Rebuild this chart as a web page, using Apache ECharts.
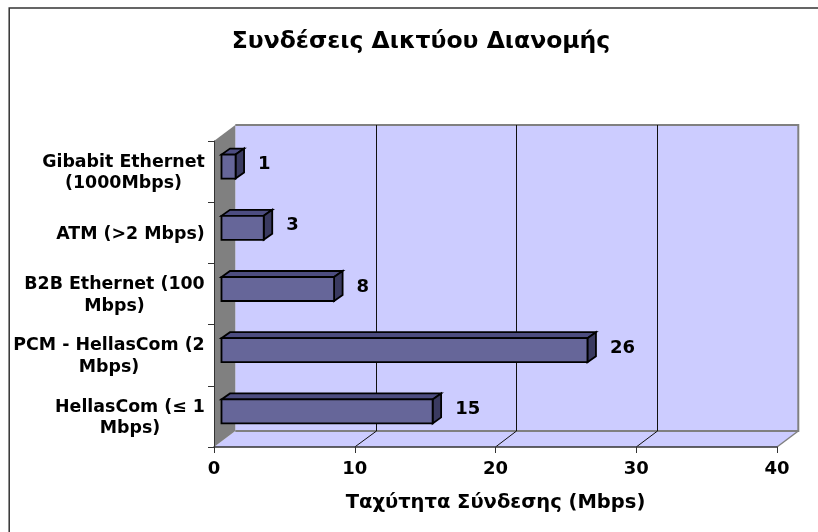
<!DOCTYPE html>
<html>
<head>
<meta charset="utf-8">
<style>
  html, body { margin: 0; padding: 0; background: #fff; }
  #chart { width: 818px; height: 532px; }
</style>
<script src="https://cdn.jsdelivr.net/npm/echarts@6/dist/echarts.min.js"></script>
</head>
<body>
<div id="chart"></div>
<script>
const categories = [
  'Gibabit Ethernet\n(1000Mbps)',
  'ATM (>2 Mbps)',
  'B2B Ethernet (100\nMbps)',
  'PCM - HellasCom (2\nMbps)',
  'HellasCom (≤ 1\nMbps)'
];
const speeds = [1, 3, 8, 26, 15];
const xTicks = [0, 10, 20, 30, 40];

const FONT = '"DejaVu Sans", Verdana, sans-serif';
const CAT_FONT_SIZE = 17.4;

// 3d look: offset of the back wall and of the bar body
const WALL_DX = 21.3, WALL_DY = -16;
const BAR_SHIFT_X = 7.5, BAR_SHIFT_Y = -5, BAR_H = 24, BAR_DX = 8.5, BAR_DY = -6;

const chart = echarts.init(document.getElementById('chart'));

// each line of a category is centred in the label block, block sits right-aligned
const measure = document.createElement('canvas').getContext('2d');
measure.font = 'bold ' + CAT_FONT_SIZE + 'px ' + FONT;
const catRich = {};
categories.forEach((c, i) => {
  const w = Math.max(...c.split('\n').map(s => measure.measureText(s).width));
  catRich['c' + i] = { width: Math.ceil(w), align: 'center', fontFamily: FONT, fontWeight: 'bold', fontSize: CAT_FONT_SIZE, color: '#000', lineHeight: 21.5 };
});

function poly(points, fill, stroke, lineWidth) {
  return { type: 'polygon', shape: { points }, style: { fill, stroke: stroke || null, lineWidth: lineWidth || 0 } };
}

function renderWalls(params, api) {
  const cs = params.coordSys;
  const l = cs.x, r = cs.x + cs.width, t = cs.y, b = cs.y + cs.height;
  const edge = { stroke: '#808080', lineWidth: 2, fill: null };
  return {
    type: 'group',
    children: [
      poly([[l + WALL_DX, t + WALL_DY], [r + WALL_DX, t + WALL_DY], [r + WALL_DX, b + WALL_DY], [l + WALL_DX, b + WALL_DY]], '#ccccff'),
      poly([[l, b], [r, b], [r + WALL_DX, b + WALL_DY], [l + WALL_DX, b + WALL_DY]], '#ccccff'),
      poly([[l, t], [l + WALL_DX, t + WALL_DY], [l + WALL_DX, b + WALL_DY], [l, b]], '#808080'),
      { type: 'polyline', shape: { points: [[l + WALL_DX, b + WALL_DY], [r + WALL_DX, b + WALL_DY], [r + WALL_DX, t + WALL_DY], [l + WALL_DX, t + WALL_DY]] }, style: edge },
      { type: 'line', shape: { x1: r, y1: b, x2: r + WALL_DX, y2: b + WALL_DY }, style: { stroke: '#808080', lineWidth: 1.5 } }
    ]
  };
}

function renderGridline(params, api) {
  const cs = params.coordSys;
  const x = api.coord([api.value(0), 0])[0];
  const b = cs.y + cs.height, t = cs.y;
  const xBack = Math.floor(x + WALL_DX) + 0.5;
  return {
    type: 'polyline',
    shape: { points: [[x, b], [xBack, b + WALL_DY], [xBack, t + WALL_DY]] },
    style: { stroke: '#111', lineWidth: 1, fill: null }
  };
}

function renderBar(params, api) {
  const v = api.value(0), i = api.value(1);
  const c = api.coord([v, i]);
  const x0 = api.coord([0, i])[0] + BAR_SHIFT_X;
  const x1 = c[0] + BAR_SHIFT_X;
  const yt = c[1] + BAR_SHIFT_Y - BAR_H / 2;
  const yb = yt + BAR_H;
  const line = '#000';
  return {
    type: 'group',
    children: [
      poly([[x0, yt], [x1, yt], [x1 + BAR_DX, yt + BAR_DY], [x0 + BAR_DX, yt + BAR_DY]], '#4d4d80', line, 1.8),
      poly([[x1, yt], [x1 + BAR_DX, yt + BAR_DY], [x1 + BAR_DX, yb + BAR_DY], [x1, yb]], '#3a3a60', line, 1.8),
      poly([[x0, yt], [x1, yt], [x1, yb], [x0, yb]], '#666699', line, 1.8),
      {
        type: 'text',
        style: {
          x: x1 + BAR_DX + 14, y: (yt + yb) / 2 - 2,
          text: String(v),
          fill: '#000', font: 'bold 18px ' + FONT,
          align: 'left', verticalAlign: 'middle'
        }
      }
    ]
  };
}

chart.setOption({
  animation: false,
  backgroundColor: '#fff',
  title: {
    text: 'Συνδέσεις Δικτύου Διανομής',
    left: 416, top: 25, textAlign: 'center',
    textStyle: { fontFamily: FONT, fontSize: 23.5, fontWeight: 'bold', color: '#000' }
  },
  graphic: [
    { type: 'polyline', z: 10, shape: { points: [[9.2, 532], [9.2, 8], [818, 8]] }, style: { stroke: '#333', lineWidth: 1.5, fill: null } }
  ],
  grid: { left: 214, right: 41, top: 141, bottom: 85 },
  xAxis: {
    type: 'value', min: 0, max: 40, interval: 10, z: 5,
    name: 'Ταχύτητα Σύνδεσης (Mbps)', nameLocation: 'middle', nameGap: 46,
    nameTextStyle: { fontFamily: FONT, fontSize: 19.5, fontWeight: 'bold', color: '#000' },
    axisLine: { show: true, lineStyle: { color: '#333', width: 1.5 } },
    axisTick: { show: true, length: 6, lineStyle: { color: '#333' } },
    axisLabel: { margin: 13, fontFamily: FONT, fontSize: 18, fontWeight: 'bold', color: '#000', formatter: v => String(v) },
    splitLine: { show: false }
  },
  yAxis: {
    type: 'category', inverse: true, data: categories, z: 5,
    axisLine: { show: true, lineStyle: { color: '#333', width: 1 } },
    axisTick: { show: true, length: 6, lineStyle: { color: '#333' } },
    axisLabel: {
      margin: 9, interval: 0, padding: [3, 0, 0, 0],
      formatter: (val, idx) => val.split('\n').map(s => '{c' + idx + '|' + s + '}').join('\n'),
      rich: catRich
    }
  },
  series: [
    { type: 'custom', z: 1, silent: true, data: [[0, 0]], renderItem: renderWalls, encode: { x: 0, y: 1 } },
    { type: 'custom', z: 2, silent: true, data: xTicks.slice(1, -1).map(t => [t, 0]), renderItem: renderGridline, encode: { x: 0, y: 1 } },
    { type: 'custom', z: 3, silent: true, data: speeds.map((v, i) => [v, i]), renderItem: renderBar, encode: { x: 0, y: 1 } }
  ]
});
</script>
</body>
</html>
